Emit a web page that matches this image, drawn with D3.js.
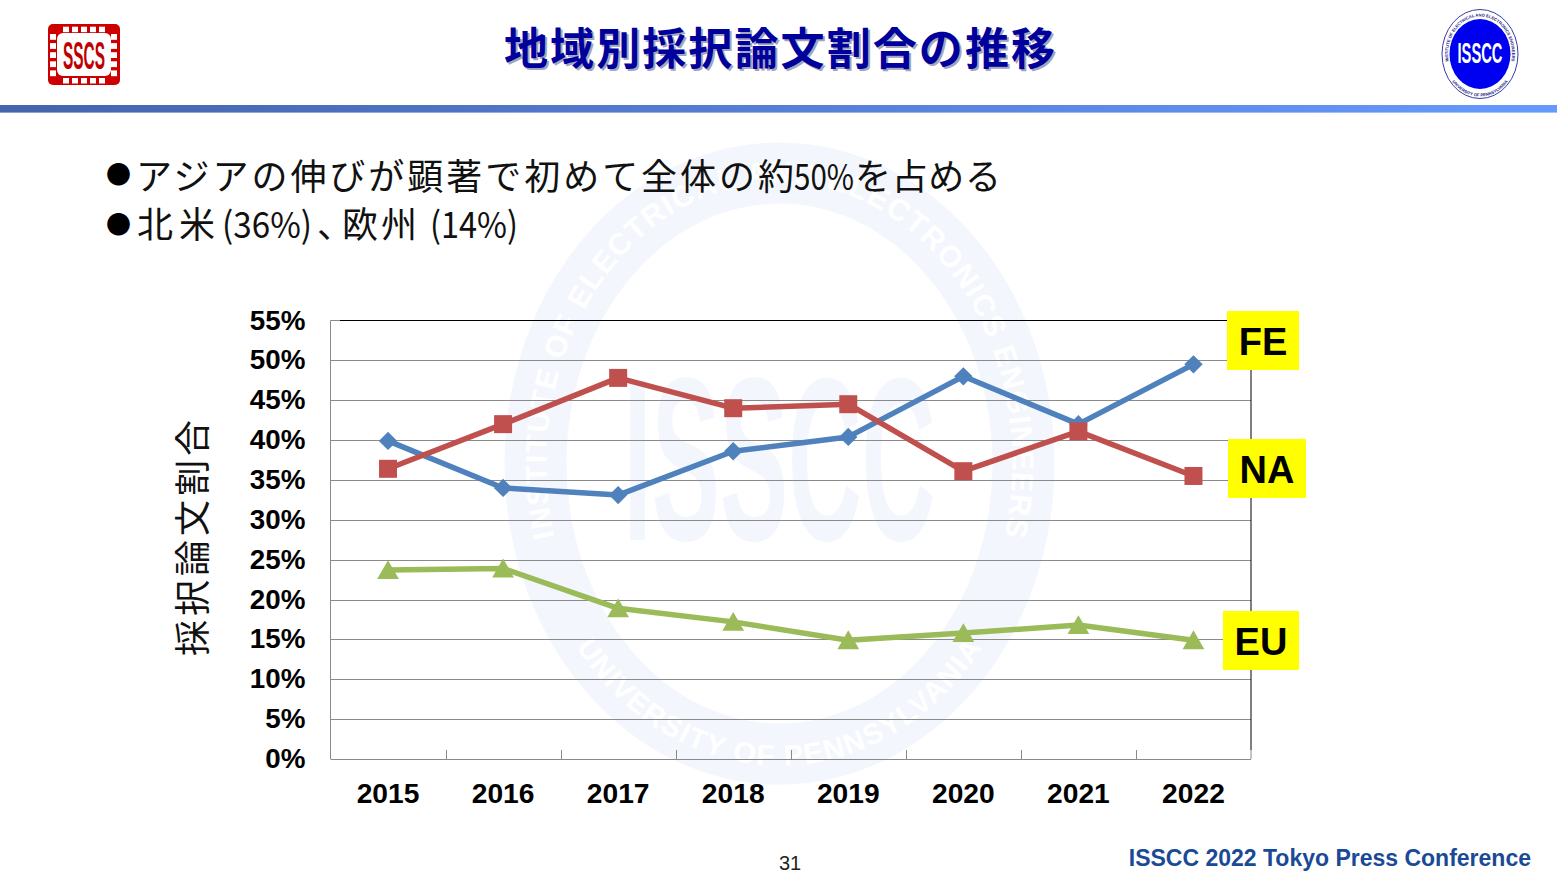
<!DOCTYPE html>
<html><head><meta charset="utf-8">
<script src="https://cdn.jsdelivr.net/npm/d3@7"></script>
<style>html,body{margin:0;padding:0;background:#fff}svg{display:block}</style></head>
<body><svg id="c" width="1557" height="876"></svg>
<script>
const years = ["2015","2016","2017","2018","2019","2020","2021","2022"];
const feValues = [39.9,34.0,33.1,38.6,40.4,48.0,42.0,49.5];
const naValues = [36.4,42.0,47.8,44.0,44.5,36.1,41.1,35.5];
const euValues = [23.7,23.9,18.9,17.2,14.9,15.8,16.8,14.9];
const yTicks = [0,5,10,15,20,25,30,35,40,45,50,55];
const titleText = "地域別採択論文割合の推移";
const yTitle = "採択論文割合";
const footerText = "ISSCC 2022 Tokyo Press Conference";
const pageNumber = "31";

const svg = d3.select("#c");
const JP = "'Noto Sans CJK JP'", AR = "'Liberation Sans',Arial";
const L=330.5,R=1251,T=320.5,B=759;
const x = d3.scaleBand().domain(years).range([L,R]);
const y = d3.scaleLinear().domain([0,55]).range([B,T]);
const cx = d => x(d)+x.bandwidth()/2;
const ellipsePath=(c,e,rx,ry)=>`M${c-rx},${e}A${rx},${ry} 0 1 1 ${c+rx},${e}A${rx},${ry} 0 1 1 ${c-rx},${e}`;
// arc on an ellipse: angles in degrees clockwise from the top
const pt=(c,e,rx,ry,a)=>[c+rx*Math.sin(a*Math.PI/180),e-ry*Math.cos(a*Math.PI/180)];
const arcPath=(c,e,rx,ry,a0,a1)=>{
 const p0=pt(c,e,rx,ry,a0),p1=pt(c,e,rx,ry,a1),d=a1-a0;
 return `M${p0}A${rx},${ry} 0 ${Math.abs(d)>180?1:0} ${d>0?1:0} ${p1}`;
};

// header band
const defs = svg.append("defs");
const g = defs.append("linearGradient").attr("id","band");
g.append("stop").attr("offset","0").attr("stop-color","#4464ac");
g.append("stop").attr("offset","1").attr("stop-color","#6699ff");
svg.append("rect").attr("x",0).attr("y",105).attr("width",1557).attr("height",7.6).attr("fill","url(#band)");

// title
[[2,"#a4a4bc"],[0,"#00009c"]].forEach(([o,c])=>{
 svg.append("text").attr("x",504+o).attr("y",65+o)
  .attr("font-family",JP).attr("font-weight",700).attr("font-size",44).attr("fill",c)
  .attr("textLength",551).attr("lengthAdjust","spacing").text(titleText);
});

// SSCS logo
const s = svg.append("g");
s.append("rect").attr("x",48).attr("y",24).attr("width",72).attr("height",61).attr("rx",5).attr("fill","#cc0000");
d3.range(5).forEach(i=>{
 [26.7,78].forEach(yy=>s.append("rect").attr("x",63+i*9).attr("y",yy).attr("width",6).attr("height",5.5).attr("fill","#fff"));
 [50,111].forEach(xx=>s.append("rect").attr("x",xx).attr("y",34+i*9.1).attr("width",6).attr("height",5.8).attr("fill","#fff"));
});
s.append("rect").attr("x",57).attr("y",33).attr("width",54).attr("height",43).attr("rx",6).attr("fill","#fff");
s.append("text").attr("x",84).attr("y",69).attr("text-anchor","middle").attr("font-family",AR).attr("font-weight",700)
 .attr("font-size",39).attr("fill","#c00000").attr("textLength",42).attr("lengthAdjust","spacingAndGlyphs").text("SSCS");

// ISSCC logo
const i0 = svg.append("g");
i0.append("ellipse").attr("cx",1480).attr("cy",54).attr("rx",38).attr("ry",44.5).attr("fill","none").attr("stroke","#3a3aa8").attr("stroke-width",1);
i0.append("ellipse").attr("cx",1480).attr("cy",54).attr("rx",30.5).attr("ry",35).attr("fill","#0000f0");
i0.append("text").attr("x",1480).attr("y",63).attr("text-anchor","middle").attr("font-family",AR).attr("font-weight",700)
 .attr("font-size",29).attr("fill","#fff").attr("textLength",45).attr("lengthAdjust","spacingAndGlyphs").text("ISSCC");
defs.append("path").attr("id","smallTop").attr("d",arcPath(1480,54,32,37.5,-125,125));
defs.append("path").attr("id","smallBot").attr("d",arcPath(1480,54,36.5,42.5,250,110));
i0.append("text").attr("font-family",AR).attr("font-weight",700).attr("font-size",4.2).attr("fill","#22227a").attr("text-anchor","middle")
 .append("textPath").attr("href","#smallTop").attr("startOffset","50%").text("INSTITUTE OF ELECTRICAL AND ELECTRONICS ENGINEERS");
i0.append("text").attr("font-family",AR).attr("font-weight",700).attr("font-size",4.2).attr("fill","#22227a").attr("text-anchor","middle")
 .append("textPath").attr("href","#smallBot").attr("startOffset","50%").text("UNIVERSITY OF PENNSYLVANIA");

// watermark
const wm = svg.append("g");
const WC=[779.5,463.5], wmColor="#f4f6fd";
wm.append("path").attr("fill-rule","evenodd").attr("fill",wmColor)
 .attr("d",ellipsePath(WC[0],WC[1],275,321)+ellipsePath(WC[0],WC[1],213,260));
wm.append("text").attr("x",WC[0]).attr("y",540).attr("text-anchor","middle").attr("font-family",AR).attr("font-weight",700)
 .attr("font-size",232).attr("fill",wmColor).attr("textLength",312).attr("lengthAdjust","spacingAndGlyphs").text("ISSCC");
defs.append("path").attr("id","wmTop").attr("d",arcPath(WC[0],WC[1],233,281,-135,135));
defs.append("path").attr("id","wmBot").attr("d",arcPath(WC[0],WC[1],256,302,250,110));
wm.append("text").attr("font-family",AR).attr("font-weight",700).attr("font-size",30).attr("fill","#fff")
 .attr("text-anchor","middle").attr("letter-spacing",1.5)
 .append("textPath").attr("href","#wmTop").attr("startOffset","50%").text("INSTITUTE OF ELECTRICAL AND ELECTRONICS ENGINEERS");
wm.append("text").attr("font-family",AR).attr("font-weight",700).attr("font-size",29).attr("fill","#fff")
 .attr("text-anchor","middle").attr("letter-spacing",1.5)
 .append("textPath").attr("href","#wmBot").attr("startOffset","50%").text("UNIVERSITY OF PENNSYLVANIA");

// bullets
const bulletMarks=[{x0:106,b:184},{x0:106,b:234}];
svg.append("g").selectAll("text").data(bulletMarks).join("text")
 .attr("x",d=>d.x0).attr("y",d=>d.b).attr("font-family",JP).attr("font-size",25).attr("fill","#000").text("●");
const bulletParts = [
 {t:"アジアの伸びが顕著で初めて全体の約",x0:136,w:658,b:190,a:"spacing"},
 {t:"50%",x0:794,w:60,b:190,a:"spacingAndGlyphs"},
 {t:"を占める",x0:855,w:146,b:190,a:"spacing"},
 {t:"北米",x0:137,w:78,b:238,a:"spacing"},
 {t:"(36%)",x0:222,w:90,b:238,a:"spacingAndGlyphs"},
 {t:"、",x0:317,w:18,b:238,a:"spacing"},
 {t:"欧州",x0:342,w:75,b:238,a:"spacing"},
 {t:"(14%)",x0:430,w:88,b:238,a:"spacingAndGlyphs"}
];
svg.append("g").selectAll("text").data(bulletParts).join("text")
 .attr("x",d=>d.x0).attr("y",d=>d.b).attr("font-family",JP).attr("font-size",36).attr("fill","#111")
 .attr("textLength",d=>d.w).attr("lengthAdjust",d=>d.a).text(d=>d.t);

// grid
const axisGrey="#8a8a8a";
const grid = svg.append("g");
grid.selectAll("line").data(yTicks.filter(v=>v>0&&v<55)).join("line")
 .attr("x1",L).attr("x2",R).attr("y1",d=>Math.round(y(d))+.5).attr("y2",d=>Math.round(y(d))+.5)
 .attr("stroke",axisGrey).attr("stroke-width",1);
svg.append("line").attr("x1",L).attr("x2",340).attr("y1",T).attr("y2",T).attr("stroke",axisGrey);
svg.append("line").attr("x1",340).attr("x2",R).attr("y1",T).attr("y2",T).attr("stroke","#000");
svg.append("line").attr("x1",R).attr("x2",R).attr("y1",T).attr("y2",B-9).attr("stroke","#000");
svg.append("line").attr("x1",L).attr("x2",L).attr("y1",T).attr("y2",B).attr("stroke",axisGrey);
svg.append("line").attr("x1",L).attr("x2",R).attr("y1",B+.5).attr("y2",B+.5).attr("stroke",axisGrey);
svg.append("g").selectAll("line").data(years.slice(1).concat([null])).join("line")
 .attr("x1",d=>d?Math.round(x(d))+.5:R).attr("x2",d=>d?Math.round(x(d))+.5:R).attr("y1",B-9).attr("y2",B)
 .attr("stroke",axisGrey);

// axes labels
svg.append("g").selectAll("text").data(yTicks).join("text")
 .attr("x",305.5).attr("y",d=>y(d)+9).attr("text-anchor","end").attr("font-family",AR).attr("font-weight",700)
 .attr("font-size",27.8).attr("fill","#000").text(d=>d+"%");
svg.append("g").selectAll("text").data(years).join("text")
 .attr("x",d=>cx(d)).attr("y",802.5).attr("text-anchor","middle").attr("font-family",AR).attr("font-weight",700)
 .attr("font-size",28.2).attr("fill","#000").text(d=>d);
svg.append("text").attr("transform","translate(206,538) rotate(-90)").attr("text-anchor","middle")
 .attr("font-family",JP).attr("font-size",36).attr("fill","#111").attr("textLength",236).text(yTitle);

// series
const line = d3.line().x((d,i)=>cx(years[i])).y(d=>y(d));
const series = [
 {v:euValues,c:"#9bbb59",sym:d3.symbolTriangle,size:205,dy:2.7},
 {v:feValues,c:"#4f81bd",sym:d3.symbolDiamond2,size:215,dy:0},
 {v:naValues,c:"#c0504d",sym:d3.symbolSquare,size:324,dy:0}
];
series.forEach(s=>{
 svg.append("path").attr("d",line(s.v)).attr("fill","none").attr("stroke",s.c).attr("stroke-width",5.5).attr("stroke-linejoin","round");
 svg.append("g").selectAll("path").data(s.v).join("path")
  .attr("d",d3.symbol().type(s.sym).size(s.size))
  .attr("transform",(d,i)=>`translate(${cx(years[i])},${y(d)+s.dy})`).attr("fill",s.c);
});

// series labels
const tags = [
 {t:"FE",x0:1227,y0:311,w:72,h:59},
 {t:"NA",x0:1228,y0:439,w:78,h:59},
 {t:"EU",x0:1223,y0:611,w:76,h:59}
];
const tg = svg.append("g").selectAll("g").data(tags).join("g");
tg.append("rect").attr("x",d=>d.x0).attr("y",d=>d.y0).attr("width",d=>d.w).attr("height",d=>d.h).attr("fill","#ffff00");
tg.append("text").attr("x",d=>d.x0+d.w/2).attr("y",d=>d.y0+44).attr("text-anchor","middle").attr("font-family",AR)
 .attr("font-weight",700).attr("font-size",38).attr("fill","#000").text(d=>d.t);

// footer
svg.append("text").attr("x",790).attr("y",870).attr("text-anchor","middle").attr("font-family",AR).attr("font-size",20).attr("fill","#222").text(pageNumber);
svg.append("text").attr("x",1531).attr("y",866).attr("text-anchor","end").attr("font-family",AR).attr("font-weight",700).attr("font-size",23).attr("fill","#1a4a96").text(footerText);
</script></body></html>
